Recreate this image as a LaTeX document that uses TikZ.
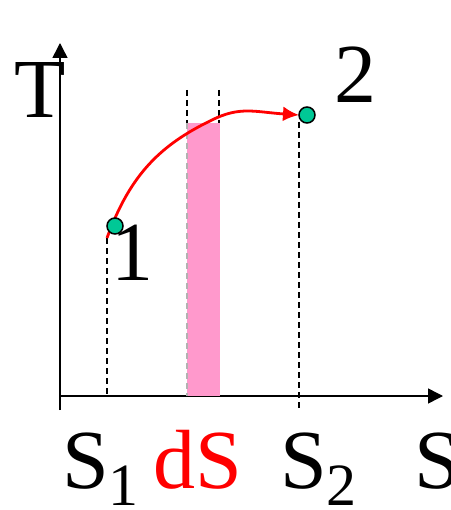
\documentclass[tikz,border=0pt]{standalone}
\usepackage{fontspec}
\setmainfont{Liberation Serif}
\usepackage{tikz}
\usetikzlibrary{positioning,arrows.meta,calc}

\definecolor{barpink}{RGB}{255,153,204}
\definecolor{ptgreen}{RGB}{0,200,150}
\newcommand{\sub}[1]{{\fontsize{60}{60}\selectfont\raisebox{-17pt}{#1}}}

\begin{document}
\begin{tikzpicture}[
        x=1pt, y=-1pt,
        font=\fontsize{84}{84}\selectfont,
        lbl/.style={inner sep=0pt, anchor=base west},
        axis/.style={line width=1.5pt, -{Triangle[length=15pt,width=15pt]}},
        guide/.style={dashed, dash pattern=on 6pt off 4pt, line width=1.4pt},
        state/.style={circle, draw, line width=1.5pt, fill=ptgreen, minimum size=16pt, inner sep=0pt},
        path/.style={red, line width=2.8pt, -{Latex[length=16pt,width=15pt]}}
    ]
        \useasboundingbox (0,0) rectangle (450,510);

        % axes
        \coordinate (O) at (60,396);
        \coordinate (Tend) at (60,43);
        \coordinate (Send) at (443,396);
        \draw[line width=1.5pt] (60,410) -- (O);
        \draw[axis] (O) -- (Tend);
        \draw[axis] (O) -- (Send);

        % strip dS
        \fill[barpink] (187,123) rectangle (220,396);
        \draw[guide] (187,90) -- (187,123);
        \draw[guide] (219,90) -- (219,123);
        \draw[guide, black!30] (187,123) -- (187,396);

        % states and process
        \coordinate (p1) at (115,226);
        \coordinate (p2) at (307,115);
        \coordinate (c0) at (107,238);
        \draw[guide] (c0) -- (107,396);
        \draw[guide] (299,122) -- (299,410);
        \draw[path] (c0) .. controls (130,175) and (160,145) .. (212,120)
            .. controls (240,106) and (255,112) .. ($(p2)+(-8,0)$);

        % labels
        \node[lbl] (Tlbl) at (14,118) {T};
        \node[lbl] (lbl2) at (334,103) {2};
        \node[lbl] (lbl1) at (111,280) {1};
        \node[lbl] (s1lbl) at (62,488) {S\sub{1}};
        \node[lbl, red] (dslbl) at (153,488) {dS};
        \node[lbl] (s2lbl) at (280,488) {S\sub{2}};
        \node[lbl] (Slbl) at (414,488) {S};

        \node[state] (st1) at (p1) {};
        \node[state] (st2) at (p2) {};
    \end{tikzpicture}
\end{document}
